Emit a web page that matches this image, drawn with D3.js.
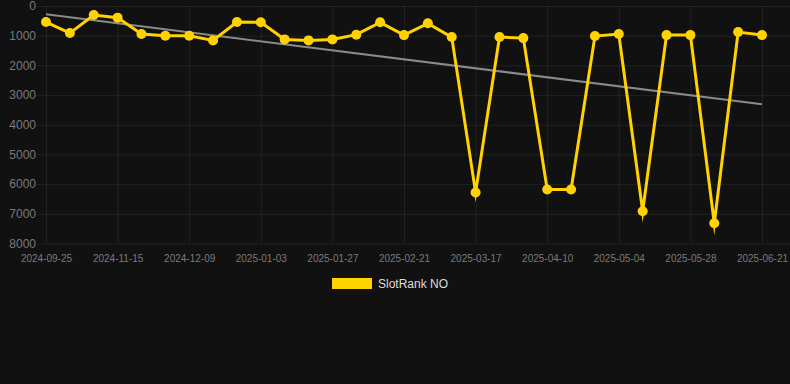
<!DOCTYPE html>
<html>
<head>
<meta charset="utf-8">
<script src="https://cdn.jsdelivr.net/npm/d3@7"></script>
<style>
  html, body { margin: 0; padding: 0; background: #111111; }
  svg { display: block; font-family: "Liberation Sans", Arial, sans-serif; }
</style>
</head>
<body>
<svg id="chart" width="790" height="384"></svg>
<script>
// dates on the category axis (only every 3rd one is labelled)
const dates = [
  "2024-09-25", "2024-10-03", "2024-11-07", "2024-11-15", "2024-11-23", "2024-12-01",
  "2024-12-09", "2024-12-17", "2024-12-25", "2025-01-03", "2025-01-11", "2025-01-19",
  "2025-01-27", "2025-02-04", "2025-02-12", "2025-02-21", "2025-03-01", "2025-03-09",
  "2025-03-17", "2025-03-25", "2025-04-02", "2025-04-10", "2025-04-18", "2025-04-26",
  "2025-05-04", "2025-05-12", "2025-05-20", "2025-05-28", "2025-06-05", "2025-06-13",
  "2025-06-21"
];
const rankNO = [
  540, 912, 304, 392, 946, 1000, 1000, 1159, 540, 550, 1125, 1159, 1125, 966, 550, 980,
  584, 1047, 6280, 1047, 1081, 6182, 6182, 1013, 946, 6912, 980, 980, 7318, 878, 980
];
const yTicks = [0, 1000, 2000, 3000, 4000, 5000, 6000, 7000, 8000];
const seriesName = "SlotRank NO";

var svg = d3.select("svg#chart"),
  margin = { top: 6, right: 28, bottom: 141, left: 46 },
  width = +svg.attr("width") - margin.left - margin.right,
  height = +svg.attr("height") - margin.top - margin.bottom;

const gridColor = "rgba(255,255,255,0.07)";
const lineColor = "#ffd200";

const chartG = svg.append("g")
  .attr("transform", `translate(${margin.left}, ${margin.top})`);

const xScale = d3.scalePoint().domain(dates).range([0, width]);
const yScale = d3.scaleLinear().domain([0, 8000]).range([0, height + 0.5]);

// horizontal grid + y labels
const yAxis = d3.axisLeft(yScale)
  .tickValues(yTicks)
  .tickFormat(d3.format("d"))
  .tickSize(-(width + margin.right + 9))
  .tickPadding(10);
chartG.append("g")
  .attr("class", "y axis")
  .attr("transform", "translate(-9,0)")
  .call(yAxis)
  .call((g) => {
    g.select(".domain").remove();
    g.selectAll(".tick line").attr("stroke", gridColor);
    g.selectAll(".tick text")
      .attr("fill", "#7a7a7a")
      .attr("font-size", "12px")
      .attr("x", -1);
  });

// vertical grid + x labels
const xTicks = dates.filter((d, i) => i % 3 === 0);
const xAxis = d3.axisBottom(xScale).tickValues(xTicks).tickSize(-height).tickPadding(12);
chartG.append("g")
  .attr("class", "x axis")
  .attr("transform", `translate(0, ${height})`)
  .call(xAxis)
  .call((g) => {
    g.select(".domain").remove();
    g.selectAll(".tick line").attr("stroke", gridColor);
    g.selectAll(".tick text")
      .attr("fill", "#7a7a7a")
      .attr("font-size", "10px");
  });

// trend line (least squares over index)
const n = rankNO.length;
const mx = d3.mean(rankNO, (d, i) => i);
const my = d3.mean(rankNO);
const slope = d3.sum(rankNO, (d, i) => (i - mx) * (d - my)) / d3.sum(rankNO, (d, i) => (i - mx) * (i - mx));
const icpt = my - slope * mx;
const trend = [0, n - 1].map((i) => ({ x: dates[i], y: icpt + slope * i }));

chartG.append("path")
  .datum(trend)
  .attr("fill", "none")
  .attr("stroke", "#8a8a8a")
  .attr("stroke-width", 2)
  .attr("d", d3.line().x((d) => xScale(d.x)).y((d) => yScale(d.y)));

// series
const data = dates.map((d, i) => ({ x: d, y: rankNO[i] }));
chartG.append("path")
  .datum(data)
  .attr("fill", "none")
  .attr("stroke", lineColor)
  .attr("stroke-width", 3)
  .attr("stroke-linejoin", "miter")
  .attr("stroke-miterlimit", 10)
  .attr("d", d3.line().x((d) => xScale(d.x)).y((d) => yScale(d.y)));

chartG.selectAll("circle.pt")
  .data(data)
  .enter()
  .append("circle")
  .attr("class", "pt")
  .attr("cx", (d) => xScale(d.x))
  .attr("cy", (d) => yScale(d.y))
  .attr("r", 5)
  .attr("fill", lineColor);

// legend
const legend = svg.append("g").attr("transform", "translate(332, 278)");
legend.append("rect")
  .attr("width", 40)
  .attr("height", 11)
  .attr("fill", lineColor);
legend.append("text")
  .attr("x", 46)
  .attr("y", 10)
  .attr("fill", "#dddddd")
  .attr("font-size", "12px")
  .text(seriesName);
</script>
</body>
</html>
